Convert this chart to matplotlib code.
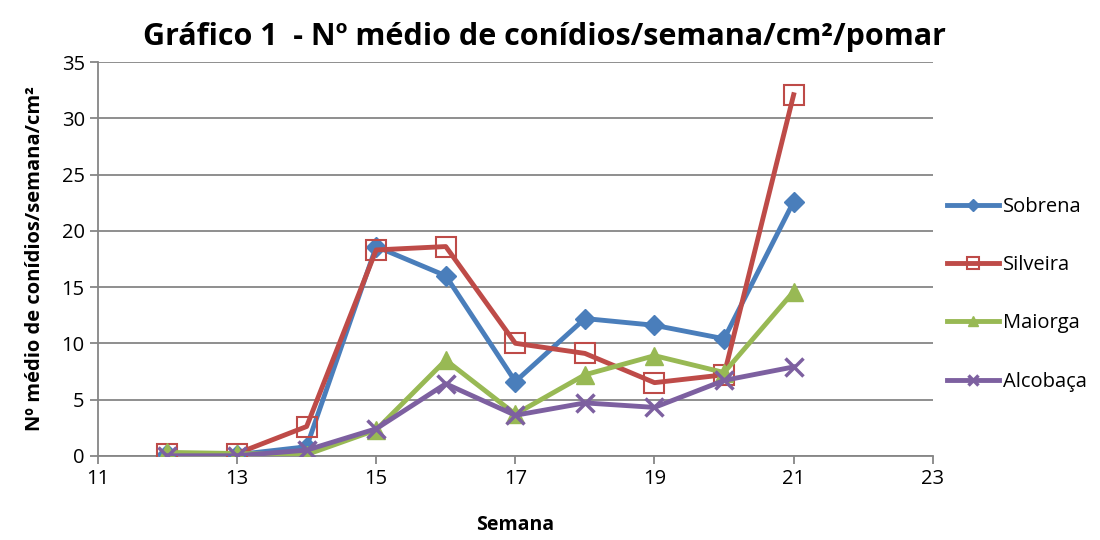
import matplotlib
matplotlib.use("Agg")
import matplotlib.pyplot as plt

plt.rcParams['font.family'] = ['Open Sans', 'DejaVu Sans']

semanas = [12, 13, 14, 15, 16, 17, 18, 19, 20, 21]
sobrena = [0.2, 0.1, 0.8, 18.6, 16.0, 6.6, 12.2, 11.6, 10.4, 22.6]
silveira = [0.2, 0.2, 2.6, 18.3, 18.6, 10.0, 9.1, 6.5, 7.2, 32.1]
maiorga = [0.3, 0.2, 0.1, 2.3, 8.5, 3.7, 7.2, 8.9, 7.4, 14.6]
alcobaca = [0.0, 0.0, 0.5, 2.4, 6.4, 3.6, 4.7, 4.3, 6.7, 7.9]

fig = plt.figure(figsize=(11, 5.4), dpi=100)
ax = fig.add_axes([0.089, 0.156, 0.759, 0.729])

ax.plot(semanas, sobrena, color='#4A7EBB', lw=3.5, marker='D', ms=10,
        label='Sobrena', zorder=3)
ax.plot(semanas, silveira, color='#BE4B48', lw=3.5, marker='s', ms=14,
        mfc='none', mec='#BE4B48', mew=1.5, label='Silveira', zorder=4)
ax.plot(semanas, maiorga, color='#98B954', lw=3.5, marker='^', ms=13,
        label='Maiorga', zorder=5)
ax.plot(semanas, alcobaca, color='#7D60A0', lw=3.5, marker='x', ms=13,
        mew=2.5, label='Alcobaça', zorder=6)

ax.set_xlim(11, 23)
ax.set_ylim(0, 35)
ax.set_xticks(range(11, 24, 2))
ax.set_yticks(range(0, 36, 5))
ax.grid(axis='y', color='#868686', lw=1.3)
ax.set_axisbelow(True)
for s in ['top', 'right']:
    ax.spines[s].set_visible(False)
for s in ['left', 'bottom']:
    ax.spines[s].set_color('#868686')
    ax.spines[s].set_linewidth(1.3)
ax.tick_params(direction='out', length=6, color='#868686', width=1.3,
               labelsize=14.5)

ax.set_xlabel('Semana', fontsize=14, fontweight='bold', labelpad=19)
ax.set_ylabel('Nº médio de conídios/semana/cm²', fontsize=14.5,
              fontweight='bold', labelpad=12)
fig.suptitle('Gráfico 1  - Nº médio de conídios/semana/cm²/pomar',
             x=0.495, y=0.96, fontsize=22, fontweight='bold')

ax.legend(loc='center left', bbox_to_anchor=(0.995, 0.41), frameon=False,
          fontsize=14.5, markerscale=0.6, handlelength=2.6, labelspacing=1.9,
          handletextpad=0.2)

fig.savefig('out.png', dpi=100)
